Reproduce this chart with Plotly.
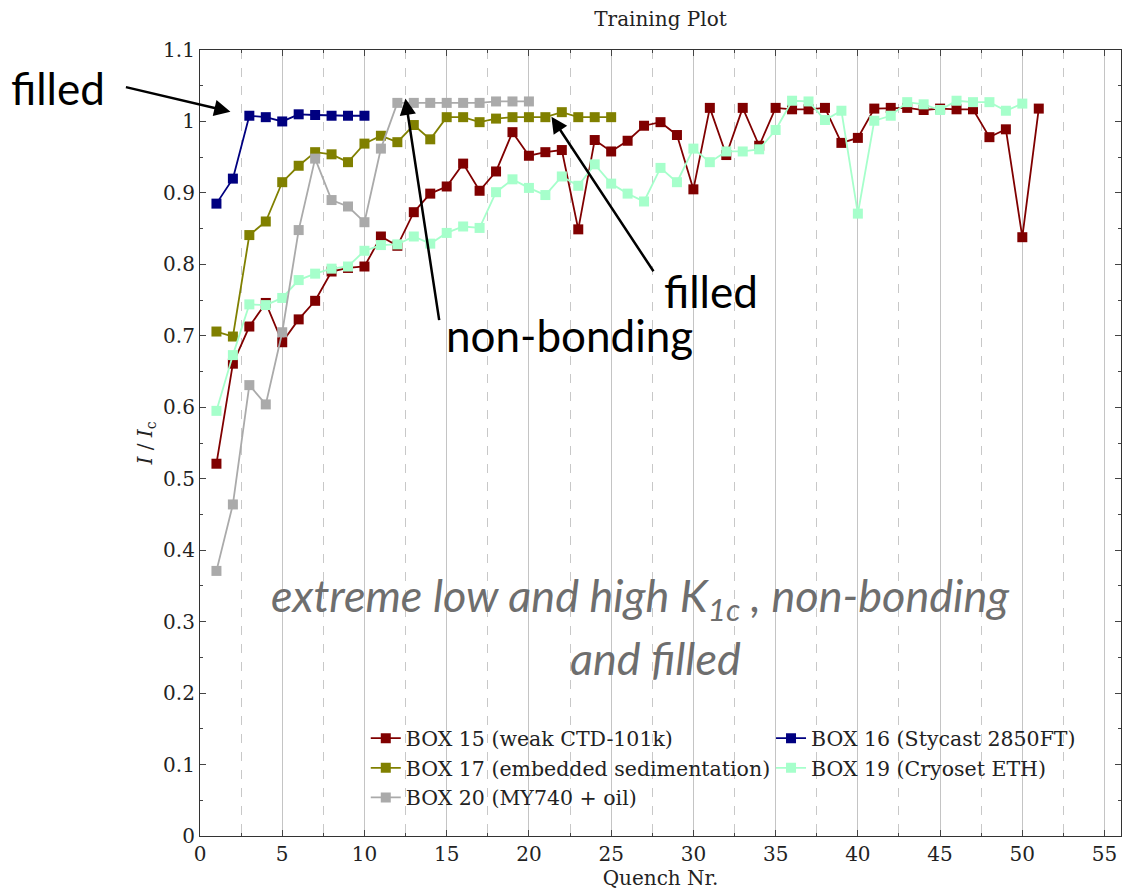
import plotly.graph_objects as go

# ---- data ----
box15_x = list(range(1, 52))
box15_y = [0.521, 0.661, 0.713, 0.746, 0.691, 0.723, 0.749, 0.790, 0.795, 0.797,
           0.839, 0.826, 0.873, 0.899, 0.909, 0.941, 0.903, 0.930, 0.985, 0.952,
           0.957, 0.960, 0.849, 0.974, 0.958, 0.973, 0.994, 0.999, 0.981, 0.905,
           1.019, 0.953, 1.019, 0.966, 1.019, 1.017, 1.017, 1.019, 0.970, 0.977,
           1.018, 1.019, 1.019, 1.016, 1.018, 1.017, 1.017, 0.978, 0.989, 0.838,
           1.018]

box16_x = list(range(1, 11))
box16_y = [0.885, 0.920, 1.008, 1.006, 1.000, 1.010, 1.009, 1.008, 1.008, 1.008]

box17_x = list(range(1, 26))
box17_y = [0.706, 0.699, 0.841, 0.860, 0.915, 0.938, 0.957, 0.954, 0.943, 0.969,
           0.980, 0.971, 0.995, 0.975, 1.006, 1.006, 0.999, 1.004, 1.006, 1.006,
           1.006, 1.013, 1.006, 1.006, 1.006]

box19_x = list(range(1, 51))
box19_y = [0.595, 0.673, 0.744, 0.743, 0.753, 0.778, 0.787, 0.794, 0.797, 0.819,
           0.827, 0.828, 0.839, 0.829, 0.844, 0.853, 0.851, 0.901, 0.919, 0.907,
           0.897, 0.923, 0.910, 0.940, 0.913, 0.899, 0.888, 0.935, 0.915, 0.962,
           0.943, 0.958, 0.958, 0.961, 0.988, 1.029, 1.028, 1.002, 1.015, 0.871,
           1.001, 1.008, 1.027, 1.024, 1.016, 1.029, 1.027, 1.027, 1.015, 1.025]

box20_x = list(range(1, 21))
box20_y = [0.371, 0.464, 0.631, 0.604, 0.705, 0.848, 0.948, 0.890, 0.881, 0.859,
           0.962, 1.026, 1.026, 1.026, 1.026, 1.026, 1.026, 1.028, 1.028, 1.028]

series = [
    ("BOX 15 (weak CTD-101k)", box15_x, box15_y, "#800000", "legend"),
    ("BOX 16 (Stycast 2850FT)", box16_x, box16_y, "#000080", "legend2"),
    ("BOX 17 (embedded sedimentation)", box17_x, box17_y, "#808000", "legend"),
    ("BOX 19 (Cryoset ETH)", box19_x, box19_y, "#a6ffcb", "legend2"),
    ("BOX 20 (MY740 + oil)", box20_x, box20_y, "#aaaaaa", "legend"),
]

SERIF = "DejaVu Serif"
SANS = "Lato"
TXT = "#222222"

fig = go.Figure()
for name, xs, ys, col, leg in series:
    fig.add_trace(go.Scatter(
        x=xs, y=ys, name=name, mode="lines+markers", legend=leg,
        line=dict(color=col, width=1.8),
        marker=dict(symbol="square", size=10, color=col),
    ))

legfont = dict(family=SERIF, size=20.5, color=TXT)
fig.update_layout(
    width=1124, height=891,
    margin=dict(l=200, r=3, t=50, b=55, autoexpand=False),
    paper_bgcolor="white", plot_bgcolor="white",
    title=dict(text="Training Plot", x=0.5, xref="paper", y=0.979, yanchor="middle",
               font=dict(family=SERIF, size=20, color=TXT)),
    font=dict(family=SERIF, size=20, color=TXT),
    legend=dict(x=0.18, xanchor="left", y=0.1497, yanchor="top",
                bgcolor="rgba(0,0,0,0)", borderwidth=0, font=legfont,
                tracegroupgap=0, itemwidth=30),
    legend2=dict(x=0.62, xanchor="left", y=0.1497, yanchor="top",
                 bgcolor="rgba(0,0,0,0)", borderwidth=0, font=legfont,
                 tracegroupgap=0, itemwidth=30),
    showlegend=True,
)

fig.update_xaxes(
    range=[0, 56], tick0=0, dtick=5, ticks="inside", ticklen=6, tickcolor="#444",
    showline=True, linecolor="#333", linewidth=1.2, mirror="ticks",
    showgrid=True, gridcolor="#c4c4c4", gridwidth=1,
    zeroline=False,
    minor=dict(tick0=0, dtick=2.5, ticks="inside", ticklen=3, tickcolor="#444",
               showgrid=True, gridcolor="#c8c8c8", gridwidth=1, griddash="dash"),
    title=dict(text="Quench Nr.", standoff=4, font=dict(family=SERIF, size=20)),
    tickfont=dict(family=SERIF, size=20),
)
fig.update_yaxes(
    range=[0, 1.1], tick0=0, dtick=0.1, ticks="inside", ticklen=6, tickcolor="#444",
    showline=True, linecolor="#333", linewidth=1.2, mirror="ticks",
    showgrid=False, zeroline=False,
    minor=dict(tick0=0, dtick=0.05, ticks="inside", ticklen=3, tickcolor="#444", showgrid=False),
    title=dict(text="<i>I</i> / <i>I</i><sub>c</sub>", standoff=5, font=dict(family=SERIF, size=20)),
    tickfont=dict(family=SERIF, size=20),
)

# text annotations (paper coordinates, centred)
big = dict(family=SANS, size=44, color="black")
grey = dict(family=SANS, size=45, color="#6e6e6e")
texts = [
    (-0.154, 0.9516, "filled", big),
    (0.4007, 0.6373, "non-bonding", big),
    (0.5548, 0.6933, "filled", big),
    (0.4788, 0.3026, "<i>extreme low and high K<sub>1c</sub> , non-bonding</i>", grey),
    (0.4951, 0.2262, "<i>and filled</i>", grey),
]
for xp, yp, t, f in texts:
    fig.add_annotation(x=xp, y=yp, xref="paper", yref="paper", text=t,
                       xanchor="center", yanchor="middle", showarrow=False, font=f)

# arrows
for hx, hy, ax, ay in [(1.85, 1.0136, -106, -25), (12.49, 1.032, 34, 223), (21.37, 1.0066, 103, 156)]:
    fig.add_annotation(x=hx, y=hy, xref="x", yref="y", text="", showarrow=True,
                       ax=ax, ay=ay, axref="pixel", ayref="pixel",
                       arrowhead=2, arrowsize=1.3, arrowwidth=2.5, arrowcolor="black")

fig.write_html("out.html", config={"displayModeBar": False},
               post_script="document.body.style.margin='0';document.body.style.overflow='hidden';")
